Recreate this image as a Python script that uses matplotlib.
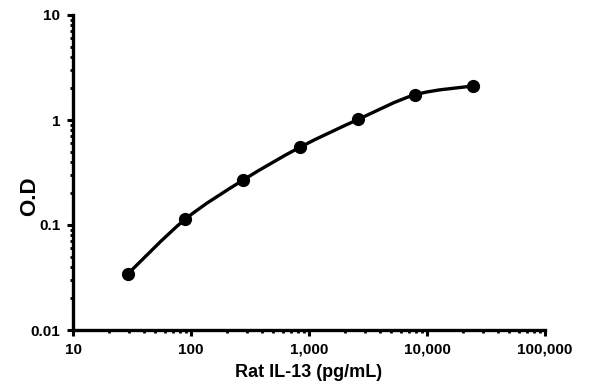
import matplotlib
matplotlib.use("Agg")
import matplotlib.pyplot as plt
import numpy as np
from matplotlib.path import Path
from matplotlib.patches import PathPatch
from matplotlib.ticker import LogLocator, NullFormatter

conc = [29, 89, 277, 839, 2620, 7960, 24700]
od = [0.034, 0.113, 0.268, 0.55, 1.015, 1.74, 2.11]
xticks = [10, 100, 1000, 10000, 100000]
xticklabels = ["10", "100", "1,000", "10,000", "100,000"]
yticks = [0.01, 0.1, 1, 10]
yticklabels = ["0.01", "0.1", "1", "10"]

plt.rcParams['font.family'] = ['Liberation Sans', 'DejaVu Sans']
plt.rcParams['font.weight'] = 'bold'

fig = plt.figure(figsize=(5.95, 3.92), dpi=100)
ax = fig.add_axes([73/595, 1-330/392, 472/595, 315/392])
ax.set_xscale('log')
ax.set_yscale('log')
ax.set_xlim(10, 100000)
ax.set_ylim(0.01, 10)

# smooth connecting curve (Catmull-Rom as cubic Bezier in log space)
lx = np.log10(conc)
ly = np.log10(od)
P = np.column_stack([lx, ly])
n = len(P)
verts = [P[0]]
codes = [Path.MOVETO]
for i in range(n - 1):
    p0 = P[i - 1] if i > 0 else P[i]
    p1 = P[i]
    p2 = P[i + 1]
    p3 = P[i + 2] if i + 2 < n else P[i + 1]
    c1 = p1 + (p2 - p0) / 6.0
    c2 = p2 - (p3 - p1) / 6.0
    verts += [c1, c2, p2]
    codes += [Path.CURVE4] * 3
verts = 10 ** np.array(verts)
ax.add_patch(PathPatch(Path(verts, codes), fill=False, edgecolor='black', lw=2.4,
                       transform=ax.transData, clip_on=False))
ax.plot(conc, od, color='black', lw=0, marker='o', ms=8.5, clip_on=False)

ax.set_xticks(xticks)
ax.set_xticklabels(xticklabels)
ax.set_yticks(yticks)
ax.set_yticklabels(yticklabels)
ax.xaxis.set_minor_locator(LogLocator(base=10, subs=range(2, 10)))
ax.yaxis.set_minor_locator(LogLocator(base=10, subs=range(2, 10)))
ax.xaxis.set_minor_formatter(NullFormatter())
ax.yaxis.set_minor_formatter(NullFormatter())
for s in ['top', 'right']:
    ax.spines[s].set_visible(False)
for s in ['left', 'bottom']:
    ax.spines[s].set_linewidth(2.4)
ax.tick_params(which='major', length=4, width=2.2, labelsize=11, pad=5)
ax.tick_params(which='minor', length=2.5, width=2.0)
for lab in ax.get_xticklabels() + ax.get_yticklabels():
    lab.set_fontweight('bold')
ax.set_xlabel("Rat IL-13 (pg/mL)", fontsize=13, fontweight='bold')
ax.set_ylabel("O.D", fontsize=16, fontweight='bold')
ax.yaxis.set_label_coords(-0.070, 0.425)
ax.xaxis.set_label_coords(0.5, -0.108)
fig.savefig("out.png", dpi=100)
